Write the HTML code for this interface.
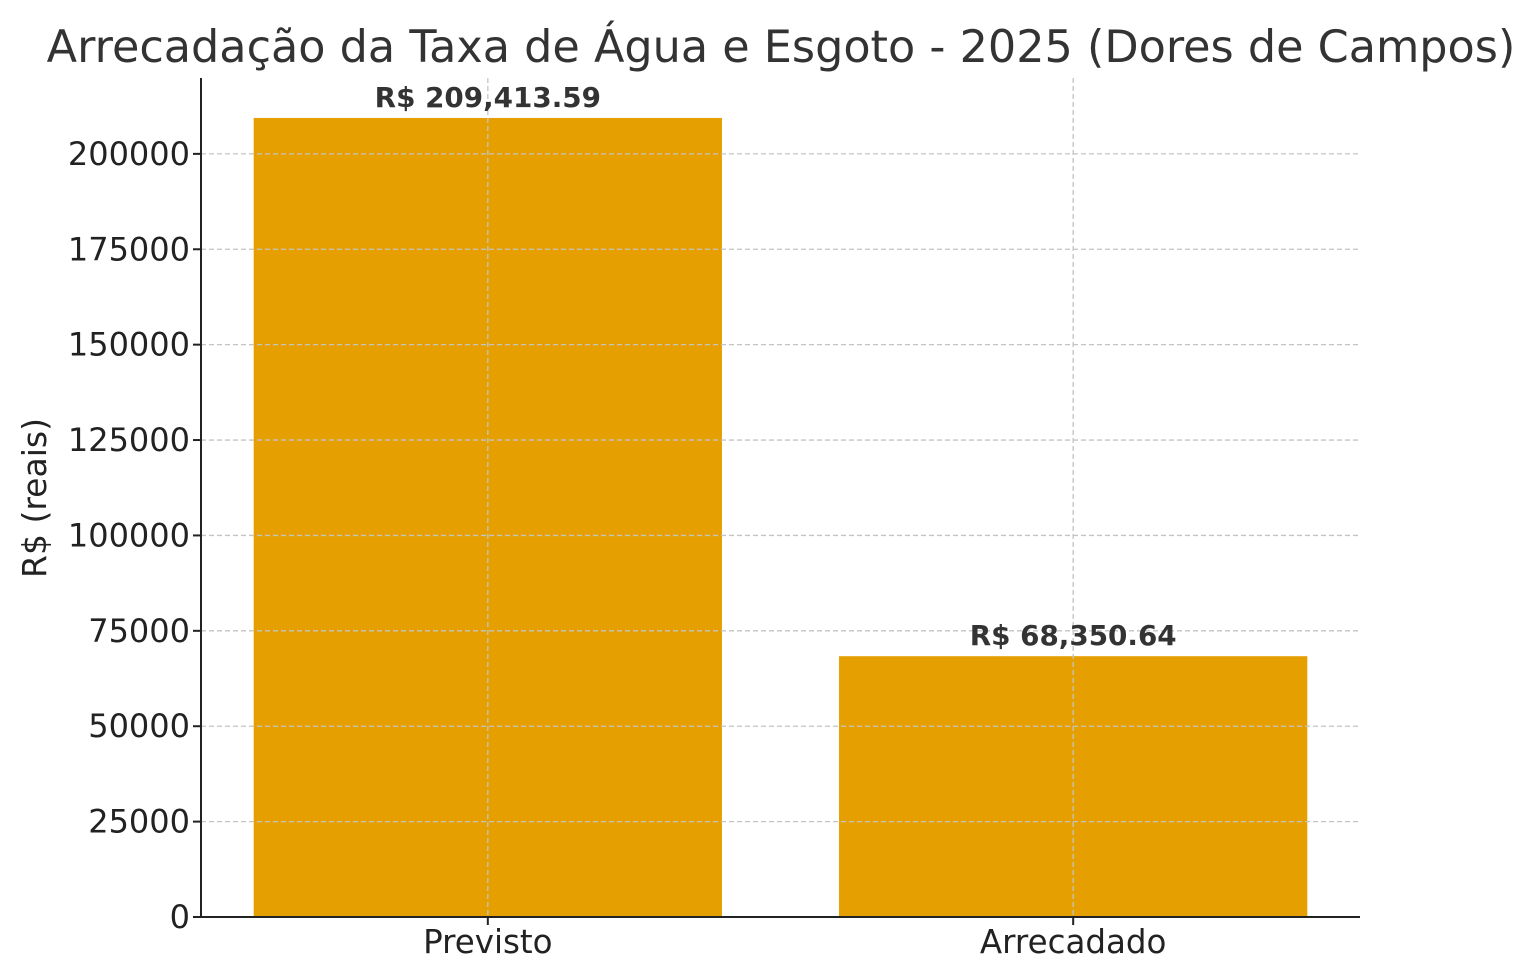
<!DOCTYPE html>
<html><head><meta charset="utf-8"><style>
html,body{margin:0;padding:0;background:#fff;}
svg{display:block;font-family:"DejaVu Sans","Liberation Sans",sans-serif;}
</style></head><body>
<svg id="chart" width="1534" height="980"></svg>
<script>
const categories = ["Previsto", "Arrecadado"];
const values = [209413.59, 68350.64];
const valueLabels = ["R$ 209,413.59", "R$ 68,350.64"];
const yTicks = [0, 25000, 50000, 75000, 100000, 125000, 150000, 175000, 200000];

const NS = "http://www.w3.org/2000/svg";
const svg = document.getElementById("chart");
const L = 201, R = 1360, T = 78, B = 917;
const yMax = Math.max(...values) * 1.05;
const xMin = -0.49, xMax = categories.length - 1 + 0.49;
const y = v => B - (v / yMax) * (B - T);
const x = i => L + (i - xMin) / (xMax - xMin) * (R - L);
const bw = 0.8 * (R - L) / (xMax - xMin);

function mk(tag, attrs, text) {
  const e = document.createElementNS(NS, tag);
  for (const k in attrs) e.setAttribute(k, attrs[k]);
  if (text !== undefined) e.textContent = text;
  svg.appendChild(e);
  return e;
}

categories.forEach((c, i) => {
  const r = mk("rect", {x: x(i) - bw / 2, y: y(values[i]), width: bw, height: B - y(values[i]), fill: "#e59f00"});
  
  
});
yTicks.forEach(t => {
  const g = mk("line", {x1: L, x2: R, y1: y(t), y2: y(t), stroke: "#c4c4c4", "stroke-width": 1.3, "stroke-dasharray": "5,3"});
  
  
});
categories.forEach((c, i) => {
  const g = mk("line", {x1: x(i), x2: x(i), y1: T, y2: B, stroke: "#c4c4c4", "stroke-width": 1.3, "stroke-dasharray": "5,3"});
  
  
});
categories.forEach((c, i) => {
  const t = mk("text", {x: x(i), y: y(values[i]) - 11, "text-anchor": "middle", "font-size": 27.8, "font-weight": "bold", fill: "#333"}, valueLabels[i]);
  
  
});
const sl = mk("line", {x1: L, x2: L, y1: T, y2: B + 1, stroke: "#222", "stroke-width": 2});


const sb = mk("line", {x1: L - 1, x2: R, y1: B, y2: B, stroke: "#222", "stroke-width": 2});


yTicks.forEach(t => {
  const tk = mk("line", {x1: L - 8, x2: L, y1: y(t), y2: y(t), stroke: "#222", "stroke-width": 2});
  
  
  const lb = mk("text", {x: L - 11, y: y(t) + 11, "text-anchor": "end", "font-size": 32, fill: "#222"}, String(t));
  
  
});
categories.forEach((c, i) => {
  const tk = mk("line", {x1: x(i), x2: x(i), y1: B, y2: B + 8, stroke: "#222", "stroke-width": 2});
  
  
  const lb = mk("text", {x: x(i), y: B + 36, "text-anchor": "middle", "font-size": 32.5, fill: "#222"}, c);
  
  
});
const yt = mk("text", {x: 0, y: 0, transform: "translate(46,498) rotate(-90)", "text-anchor": "middle", "font-size": 33, fill: "#222"}, "R$ (reais)");


const tt = mk("text", {x: 781, y: 62, "text-anchor": "middle", "font-size": 44.5, fill: "#333"}, "Arrecadação da Taxa de Água e Esgoto - 2025 (Dores de Campos)");


</script>
</body></html>
